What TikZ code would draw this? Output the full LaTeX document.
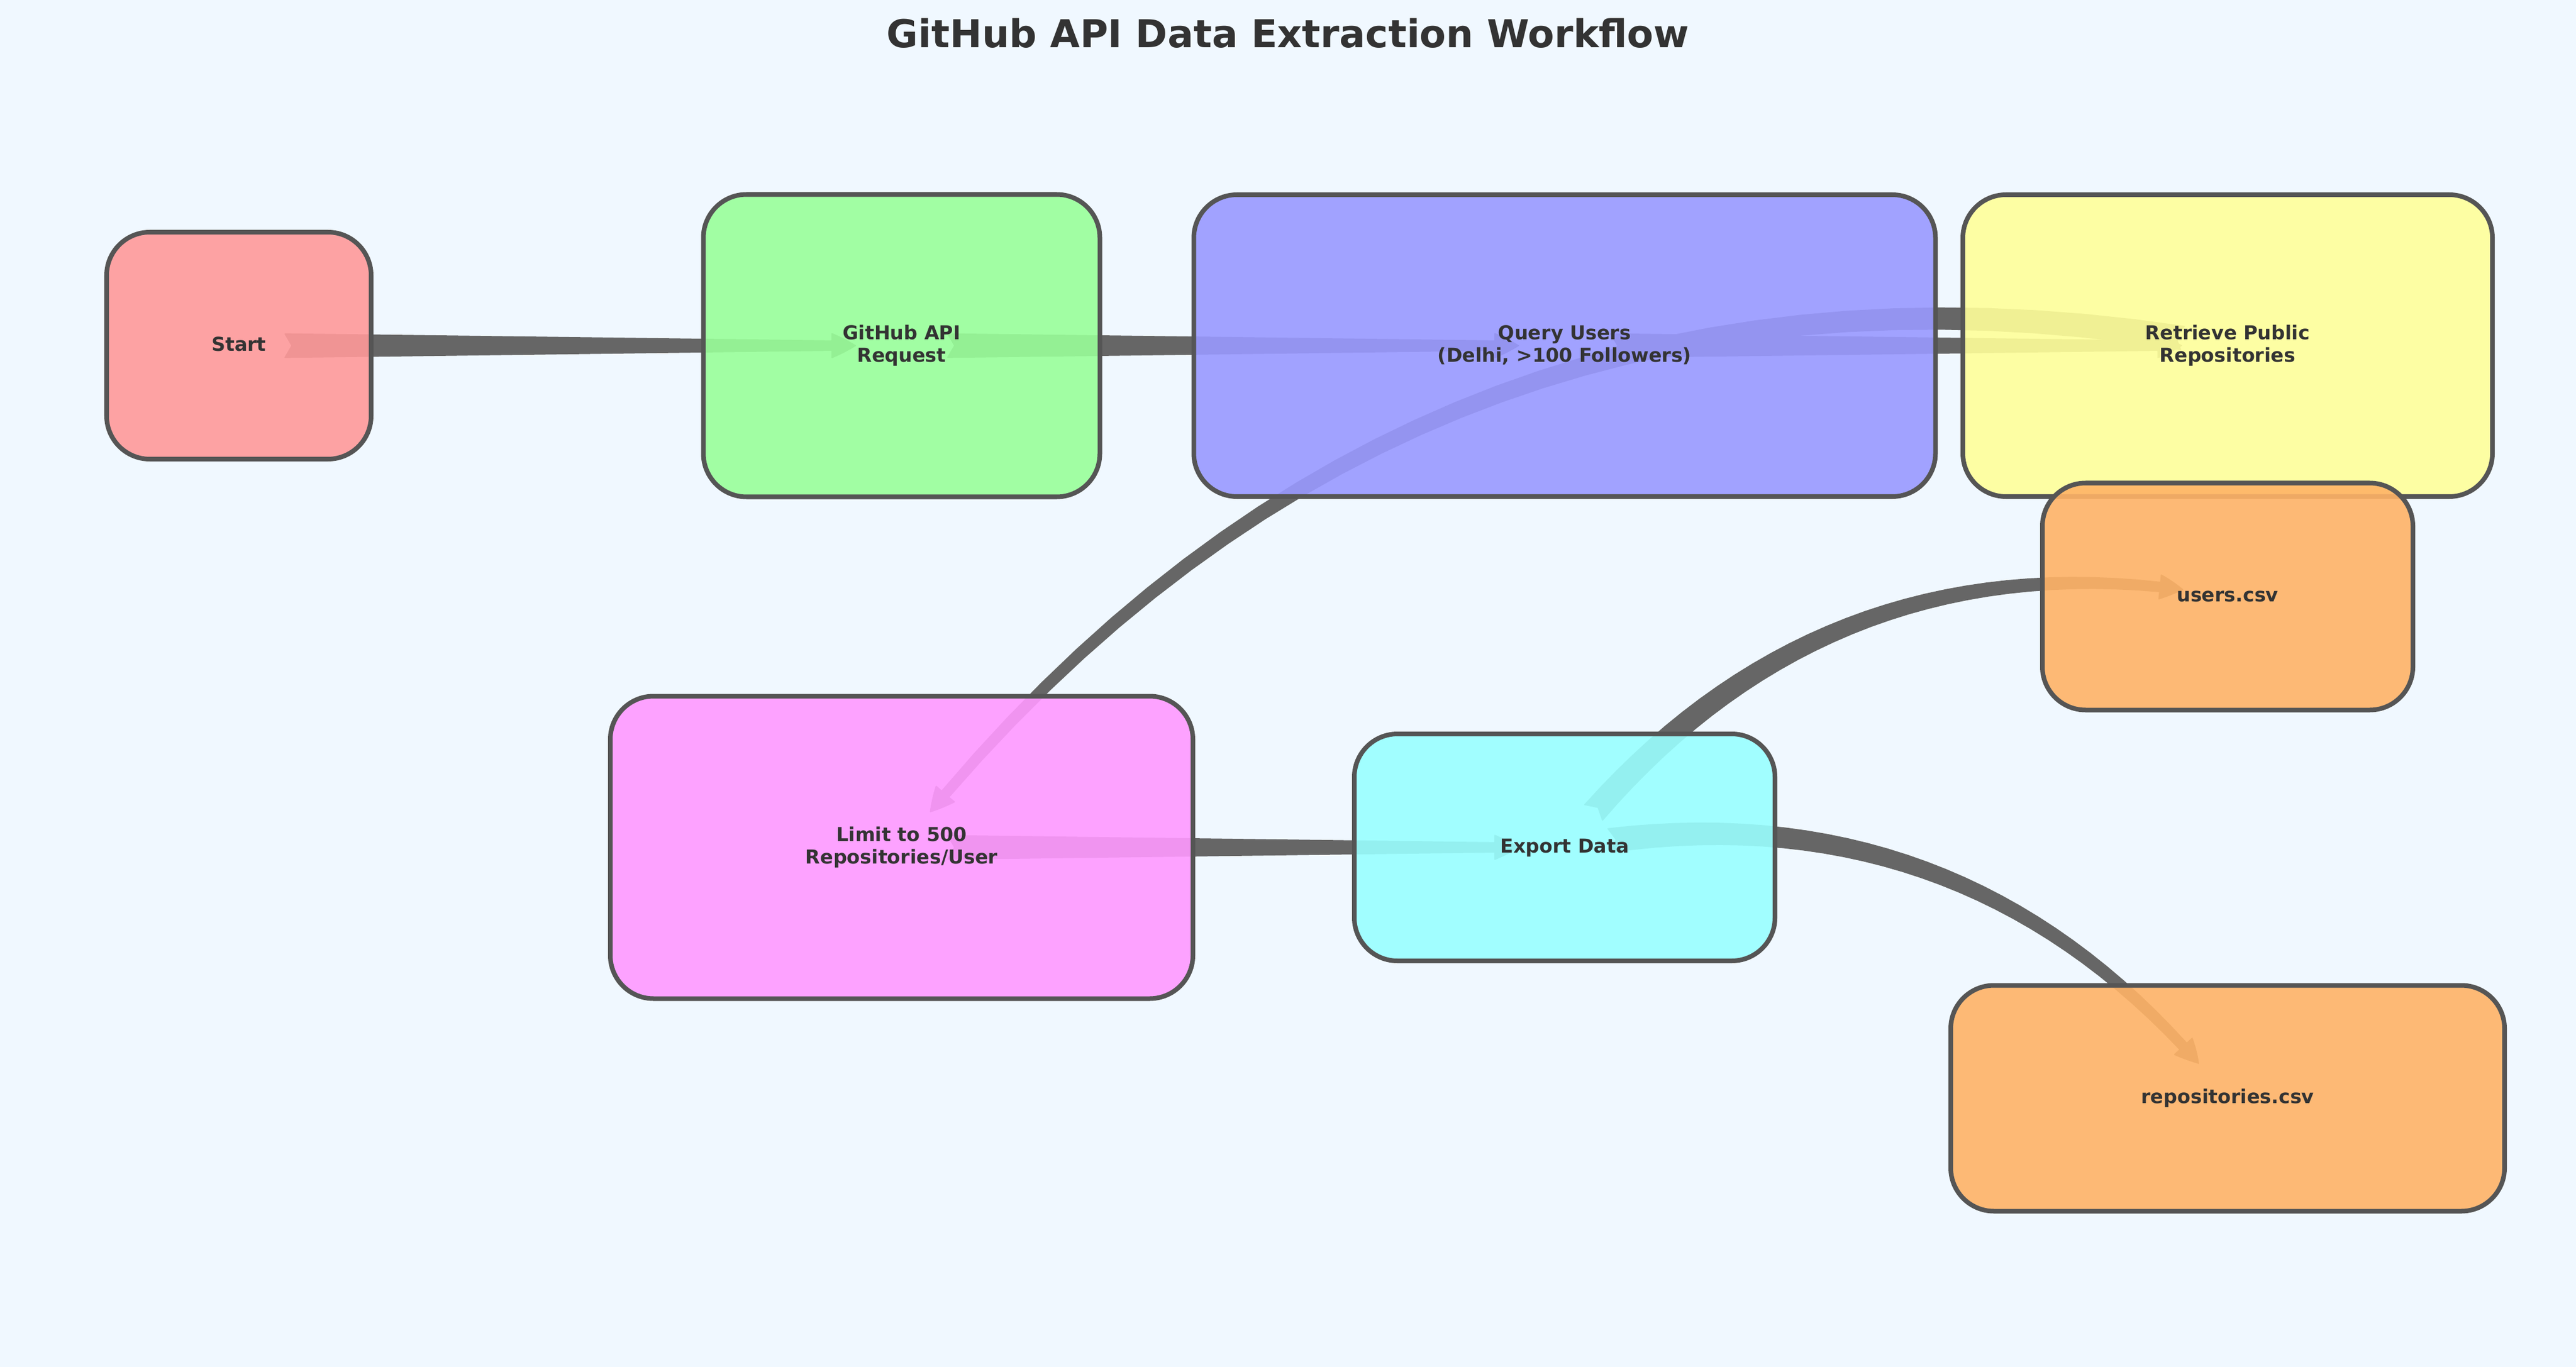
\documentclass[tikz,border=0pt]{standalone}
\usepackage{fontspec}
\setmainfont{DejaVu Sans}
\definecolor{bgc}{HTML}{F0F8FF}
\definecolor{edgec}{HTML}{555555}
\definecolor{arrc}{HTML}{666666}
\definecolor{txtc}{HTML}{333333}
\definecolor{cstart}{HTML}{FF9999}
\definecolor{capi}{HTML}{99FF99}
\definecolor{cquery}{HTML}{9999FF}
\definecolor{cret}{HTML}{FFFF99}
\definecolor{climit}{HTML}{FF99FF}
\definecolor{cexport}{HTML}{99FFFF}
\definecolor{cfile}{HTML}{FFB366}
\pgfdeclarelayer{bglayer}
\pgfdeclarelayer{arrowlayer}
\pgfsetlayers{bglayer,arrowlayer,main}
\newcommand{\labelfont}{\fontsize{9.48pt}{11.2pt}\selectfont\bfseries}
\newcommand{\titlefont}{\fontsize{18.97pt}{22.8pt}\selectfont\bfseries}
\newcommand{\qs}{\vphantom{lp}}
% centre of a node in picture units (1 unit = 1cm = 100 px of the reference)
\newcommand{\qGetXY}[3]{%
  \pgfpointanchor{#1}{center}%
  \pgfgetlastxy{\qTmpX}{\qTmpY}%
  \pgfmathsetmacro#2{\qTmpX/28.45276}%
  \pgfmathsetmacro#3{-1*(\qTmpY)/28.45276}%
}
% point and unit normal of the quadratic curve A-C-B at parameter t
\newcommand{\qPoint}[1]{%
  \pgfmathsetmacro\qU{1-(#1)}%
  \pgfmathsetmacro\qPx{\qU*\qU*\qAx+2*(#1)*\qU*\qCx+(#1)*(#1)*\qBx}%
  \pgfmathsetmacro\qPy{\qU*\qU*\qAy+2*(#1)*\qU*\qCy+(#1)*(#1)*\qBy}%
  \pgfmathsetmacro\qDx{\qU*(\qCx-\qAx)+(#1)*(\qBx-\qCx)}%
  \pgfmathsetmacro\qDy{\qU*(\qCy-\qAy)+(#1)*(\qBy-\qCy)}%
  \pgfmathsetmacro\qDl{veclen(\qDx,\qDy)}%
  \pgfmathsetmacro\qNx{-1*(\qDy)/\qDl}%
  \pgfmathsetmacro\qNy{(\qDx)/\qDl}%
}
% tapered ("fancy") arrow from node #1 to node #2, arc with rad #3
\newcommand{\farrow}[3]{%
  \qGetXY{#1}{\qAx}{\qAy}%
  \qGetXY{#2}{\qBx}{\qBy}%
  \pgfmathsetmacro\qCx{(\qAx+\qBx)/2-(#3)*(\qBy-\qAy)}%
  \pgfmathsetmacro\qCy{(\qAy+\qBy)/2+(#3)*(\qBx-\qAx)}%
  \pgfmathsetmacro\qSa{2*veclen(\qCx-\qAx,\qCy-\qAy)}%
  \pgfmathsetmacro\qSb{2*veclen(\qBx-\qCx,\qBy-\qCy)}%
  \pgfmathsetmacro\qTa{0.80/\qSa}%
  \pgfmathsetmacro\qTn{0.92/\qSa}%
  \pgfmathsetmacro\qTb{1-0.80/\qSb}%
  \pgfmathsetmacro\qTh{1-1.21/\qSb}%
  \foreach \qi in {0,...,30}{%
    \pgfmathsetmacro\qS{\qi/30}%
    \pgfmathsetmacro\qT{\qTa+(\qTh-\qTa)*\qS}%
    \qPoint{\qT}%
    \pgfmathsetmacro\qW{0.205*(1-0.6*\qS)}%
    \coordinate (qL\qi) at ({\qPx+\qW*(\qNx)},{\qPy+\qW*(\qNy)});%
    \coordinate (qR\qi) at ({\qPx-\qW*(\qNx)},{\qPy-\qW*(\qNy)});%
  }%
  \foreach \qj in {0,...,8}{%
    \pgfmathsetmacro\qS{\qj/8}%
    \pgfmathsetmacro\qT{\qTh+(\qTb-\qTh)*\qS}%
    \qPoint{\qT}%
    \pgfmathsetmacro\qW{0.209*((1-\qS)*(1-\qS)+1.2*\qS*(1-\qS))}%
    \coordinate (qHL\qj) at ({\qPx+\qW*(\qNx)},{\qPy+\qW*(\qNy)});%
    \coordinate (qHR\qj) at ({\qPx-\qW*(\qNx)},{\qPy-\qW*(\qNy)});%
  }%
  \qPoint{\qTn}%
  \coordinate (qN) at (\qPx,\qPy);%
  \fill[fancyarrow] (qN) -- (qL0) \foreach \qi in {1,...,30}{-- (qL\qi)}
    \foreach \qj in {0,...,8}{-- (qHL\qj)}
    \foreach \qj in {7,6,...,0}{-- (qHR\qj)}
    \foreach \qi in {30,29,...,0}{-- (qR\qi)} -- cycle;%
}
\tikzset{
  box/.style={draw=edgec, line width=2.28pt, rounded corners=0.75cm,
    fill opacity=0.9, text opacity=1, text=txtc, align=center,
    font=\labelfont, inner sep=0pt},
  fancyarrow/.style={fill=arrc, draw=arrc, line width=0.5pt, line join=round},
}
\begin{document}
\begin{tikzpicture}[x=1cm, y=-1cm]
\useasboundingbox (0,0) rectangle (44.70,23.73);
\begin{pgfonlayer}{bglayer}
  \fill[bgc] (0,0) rectangle (44.70,23.73);
\end{pgfonlayer}

\node[font=\titlefont, text=txtc, anchor=base, inner sep=0pt] (title)
  at (22.35,0.825) {GitHub API Data Extraction Workflow};

\node[box, fill=cstart, minimum width=4.59cm, minimum height=3.94cm] (start)
  at (4.145,6.00) {\qs Start};
\node[box, fill=capi, minimum width=6.88cm, minimum height=5.25cm] (api)
  at (15.645,6.00) {\qs GitHub API\\\qs Request};
\node[box, fill=cquery, minimum width=12.87cm, minimum height=5.24cm] (query)
  at (27.15,6.00) {\qs Query Users\\\qs (Delhi, >100 Followers)};
\node[box, fill=cret, minimum width=9.19cm, minimum height=5.24cm] (retrieve)
  at (38.655,6.00) {\qs Retrieve Public\\\qs Repositories};
\node[box, fill=climit, minimum width=10.11cm, minimum height=5.25cm] (limit)
  at (15.645,14.71) {\qs Limit to 500\\\qs Repositories/User};
\node[box, fill=cexport, minimum width=7.30cm, minimum height=3.94cm] (export)
  at (27.15,14.71) {\qs Export Data};
\node[box, fill=cfile, minimum width=6.43cm, minimum height=3.94cm] (users)
  at (38.655,10.355) {\qs users.csv};
\node[box, fill=cfile, minimum width=9.61cm, minimum height=3.92cm] (repos)
  at (38.655,19.065) {\qs repositories.csv};

\begin{pgfonlayer}{arrowlayer}
  \farrow{start}{api}{0}
  \farrow{api}{query}{0}
  \farrow{query}{retrieve}{0}
  \farrow{retrieve}{limit}{0.3}
  \farrow{limit}{export}{0}
  \farrow{export}{users}{-0.3}
  \farrow{export}{repos}{-0.3}
\end{pgfonlayer}
\end{tikzpicture}
\end{document}
